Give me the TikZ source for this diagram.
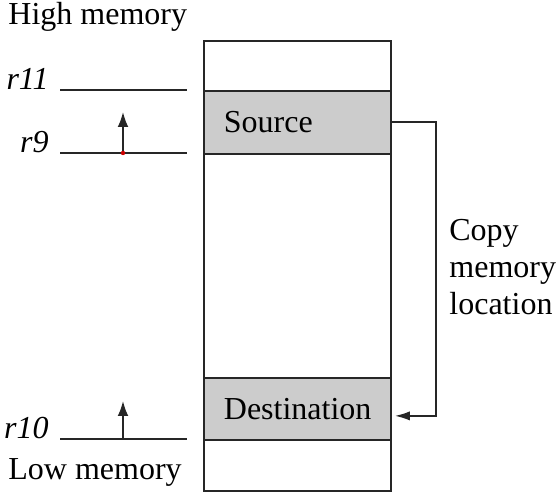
\documentclass[tikz,border=0pt]{standalone}
\usepackage{fontspec}
\setmainfont{Liberation Serif}
\usetikzlibrary{arrows.meta, calc}

\begin{document}
\begin{tikzpicture}[x=0.5pt, y=-0.5pt, font=\fontsize{16}{18.5}\selectfont,
  cell/.style={draw=black!85, line width=0.9pt, anchor=north west, inner xsep=10pt, inner ysep=0pt, text width=73.5pt, align=left},
  hot/.style={cell, fill=black!20},
  lvl/.style={line width=0.9pt, draw=black!85},
  reg/.style={anchor=base east, inner sep=0pt, font=\fontsize{16}{18.5}\selectfont\itshape},
  txt/.style={anchor=base west, inner sep=0pt},
  ptr/.style={-{Latex[length=7.5pt, width=5.4pt]}, line width=0.9pt, draw=black!85},
  a/.style={-{Latex[length=7.5pt, width=4.6pt]}, line width=0.9pt, draw=black!85}]
  \useasboundingbox (0,0) rectangle (558,501);
  \node[txt] (hi) at (8,25) {High memory};
  \node[txt] (lo) at (8,480) {Low memory};
  % memory column, top to bottom
  \node[cell, minimum height=25pt] (top) at (203,40) {};
  \node[hot, minimum height=31.5pt] (src) at (203,90) {Source};
  \node[cell, minimum height=112pt] (mid) at (203,153) {};
  \node[hot, minimum height=31pt] (dst) at (203,377) {Destination};
  \node[cell, minimum height=25.5pt] (bot) at (203,439) {};
  % register levels
  \foreach \n/\y in {r11/90, r9/153, r10/439} {
    \coordinate (\n w) at (60,\y);
    \coordinate (\n e) at (187,\y);
    \draw[lvl] (\n w) -- (\n e);
    \node[reg] (\n) at (49,\y) {\n};
  }
  \coordinate (t9) at (123,112);
  \coordinate (t10) at (123,401);
  \draw[ptr] (t9 |- r9w) -- (t9);
  \draw[ptr] (t10 |- r10w) -- (t10);
  \fill[red!80!black] (t9 |- r9w) circle (1.1pt);
  % copy path runs round the right side of the column
  \draw[a, shorten >=1.5pt] (src.east) -- ++(22pt,0) |- ([yshift=-3.5pt]dst.east);
  \node[txt, align=left] (cp) at (449,315) {Copy\\memory\\location};
\end{tikzpicture}
\end{document}
